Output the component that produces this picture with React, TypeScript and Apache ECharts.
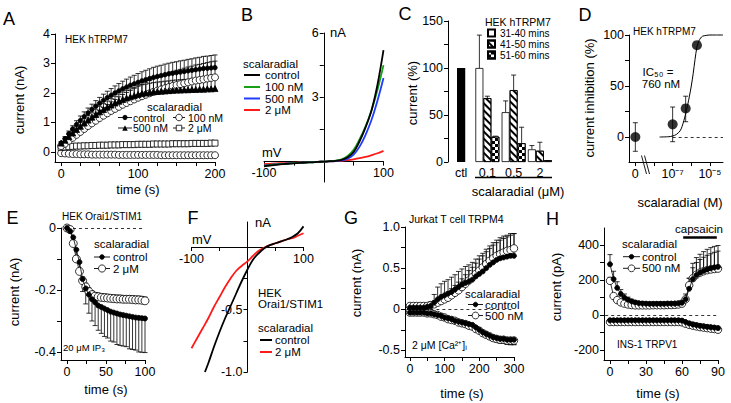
import React, { useEffect, useRef } from 'react';
import * as echarts from 'echarts';

const FONT = '"Liberation Sans", Arial, Helvetica, sans-serif';
const NARROW = '"Liberation Sans Narrow", "Liberation Sans", Arial, sans-serif';

// ---------------- Panel A : HEK hTRPM7 time course ----------------
const timeA = [0,5,10,15,20,25,30,35,40,45,50,55,60,65,70,75,80,85,90,95,100,105,110,115,120,125,130,135,140,145,150,155,160,165,170,175,180,185,190,195,200];
const aControl = [0.30,0.45,0.62,0.78,0.93,1.07,1.20,1.32,1.44,1.55,1.65,1.75,1.84,1.92,2.00,2.07,2.14,2.20,2.26,2.31,2.36,2.41,2.45,2.49,2.53,2.56,2.59,2.62,2.65,2.67,2.69,2.71,2.73,2.75,2.77,2.79,2.81,2.83,2.84,2.85,2.86];
const aControlErr = [0.05,0.07,0.09,0.11,0.13,0.15,0.16,0.17,0.18,0.19,0.2,0.21,0.22,0.23,0.24,0.25,0.26,0.27,0.28,0.29,0.3,0.31,0.32,0.33,0.34,0.35,0.35,0.36,0.36,0.37,0.37,0.38,0.38,0.39,0.39,0.4,0.4,0.41,0.41,0.42,0.43];
const a100 = [0.20,0.28,0.38,0.48,0.58,0.68,0.78,0.88,0.97,1.06,1.15,1.23,1.31,1.39,1.46,1.53,1.60,1.66,1.72,1.78,1.84,1.89,1.94,1.99,2.04,2.08,2.12,2.16,2.20,2.24,2.27,2.30,2.33,2.36,2.39,2.42,2.44,2.46,2.49,2.51,2.53];
const a100Err = [0.05,0.08,0.1,0.12,0.14,0.16,0.18,0.2,0.22,0.24,0.26,0.28,0.3,0.31,0.32,0.34,0.35,0.36,0.37,0.38,0.4,0.41,0.42,0.43,0.44,0.45,0.46,0.47,0.48,0.49,0.5,0.5,0.51,0.52,0.52,0.53,0.53,0.54,0.54,0.55,0.55];
const a500 = [0.30,0.40,0.52,0.64,0.76,0.87,0.98,1.08,1.18,1.27,1.36,1.44,1.52,1.59,1.66,1.72,1.78,1.83,1.87,1.91,1.95,1.98,2.00,2.02,2.04,2.05,2.06,2.07,2.08,2.09,2.10,2.10,2.11,2.11,2.12,2.12,2.13,2.13,2.14,2.14,2.15];
const a500Err = [0.04,0.06,0.08,0.1,0.12,0.14,0.15,0.16,0.17,0.18,0.19,0.2,0.21,0.22,0.23,0.24,0.25,0.26,0.27,0.28,0.29,0.3,0.3,0.31,0.31,0.32,0.32,0.33,0.33,0.34,0.34,0.35,0.35,0.35,0.36,0.36,0.36,0.37,0.37,0.37,0.38];
const a2u = [0.15,0.17,0.18,0.19,0.20,0.20,0.21,0.21,0.22,0.22,0.23,0.23,0.23,0.24,0.24,0.24,0.25,0.25,0.25,0.25,0.26,0.26,0.26,0.26,0.27,0.27,0.27,0.27,0.27,0.28,0.28,0.28,0.28,0.28,0.29,0.29,0.29,0.29,0.29,0.30,0.30];
const a2uErr = [0.03,0.03,0.04,0.04,0.04,0.05,0.05,0.05,0.05,0.05,0.06,0.06,0.06,0.06,0.06,0.06,0.06,0.07,0.07,0.07,0.07,0.07,0.07,0.07,0.07,0.08,0.08,0.08,0.08,0.08,0.08,0.08,0.08,0.08,0.08,0.09,0.09,0.09,0.09,0.09,0.09];
const aInward = [-0.04,-0.05,-0.06,-0.07,-0.07,-0.08,-0.08,-0.08,-0.09,-0.09,-0.09,-0.09,-0.09,-0.09,-0.09,-0.1,-0.1,-0.1,-0.1,-0.1,-0.1,-0.1,-0.1,-0.1,-0.1,-0.1,-0.11,-0.11,-0.11,-0.11,-0.11,-0.11,-0.11,-0.11,-0.11,-0.11,-0.11,-0.11,-0.11,-0.11,-0.11];

// ---------------- Panel B : TRPM7 I-V ----------------
const mvB = [-100,-90,-80,-70,-60,-50,-40,-30,-20,-10,0,10,20,30,40,50,60,70,80,90,100];
const bControl = [-0.22,-0.18,-0.15,-0.12,-0.1,-0.08,-0.06,-0.04,-0.03,-0.01,0,0.02,0.04,0.08,0.2,0.45,0.95,1.6,2.4,3.6,5.2];
const b100 = [-0.2,-0.16,-0.13,-0.11,-0.09,-0.07,-0.05,-0.04,-0.03,-0.01,0,0.02,0.05,0.11,0.26,0.55,1.05,1.65,2.4,3.35,4.5];
const b500 = [-0.18,-0.15,-0.12,-0.1,-0.08,-0.06,-0.05,-0.03,-0.02,-0.01,0,0.01,0.03,0.06,0.14,0.33,0.7,1.25,1.95,2.85,3.9];
const b2u = [-0.12,-0.1,-0.08,-0.07,-0.06,-0.05,-0.04,-0.03,-0.02,-0.01,0,0.01,0.02,0.04,0.07,0.11,0.16,0.22,0.3,0.39,0.5];

// ---------------- Panel C : bars ----------------
const cCategories = ['ctl', '0.1', '0.5', '2'];
const cCtl = [100, null, null, null];
const c31 = [null, 100, 53, 13.5];
const c31Err = [null, 35, 12, 4];
const c41 = [null, 68, 76.5, 12];
const c41Err = [null, 2, 16, 9];
const c51 = [null, 27, 20, 2];
const c51Err = [null, 0.5, 17, 0];
const cLegend = ['31-40 mins', '41-50 mins', '51-60 mins'];

// ---------------- Panel D : dose response ----------------
const dConc = [0, 1e-7, 5e-7, 2e-6];
const dInhib = [0, 12.4, 28, 90];
const dErrUp = [14, 17, 12, 0];
const dErrDown = [14, 17, 13, 0];
const dFitLogConc = [-7.7,-7.2,-7.0,-6.8,-6.6,-6.5,-6.4,-6.3,-6.2,-6.1,-6.0,-5.9,-5.8,-5.7,-5.6,-5.5,-5.4,-5.2,-5.0,-4.7,-4.3];
const dFitInhib = [0,0.3,1,2.5,6,10,16,23,31,40,50,62,76,88,94,97,98.8,99.6,100,100,100];
const D_ZERO = -9; // axis position used for the zero-concentration point (broken axis)
const dTickPos = [D_ZERO, -7, -5];
const dTickText = ['0', '10⁻⁷', '10⁻⁵'];

// ---------------- Panel E : Orai1/STIM1 time course ----------------
const timeE = [0,4,8,12,16,20,24,28,32,36,40,44,48,52,56,60,64,68,72,76,80,84,88,92,96,100];
const eControl = [0,-0.01,-0.03,-0.07,-0.11,-0.165,-0.195,-0.215,-0.23,-0.24,-0.25,-0.255,-0.26,-0.265,-0.27,-0.273,-0.276,-0.279,-0.281,-0.283,-0.285,-0.287,-0.289,-0.29,-0.291,-0.292];
const eControlErr = [0,0.005,0.01,0.02,0.03,0.04,0.05,0.06,0.07,0.075,0.08,0.085,0.09,0.09,0.095,0.095,0.1,0.1,0.1,0.1,0.105,0.105,0.105,0.11,0.11,0.11];
const e2u = [0,-0.005,-0.05,-0.1,-0.14,-0.17,-0.19,-0.205,-0.215,-0.22,-0.222,-0.224,-0.225,-0.226,-0.227,-0.228,-0.229,-0.229,-0.23,-0.23,-0.23,-0.231,-0.232,-0.232,-0.233,-0.235];
const e2uErr = [0,0.005,0.008,0.01,0.01,0.012,0.012,0.012,0.012,0.012,0.012,0.012,0.012,0.012,0.012,0.012,0.012,0.012,0.012,0.012,0.012,0.012,0.012,0.012,0.012,0.012];

// ---------------- Panel F : Orai1 I-V ----------------
const mvFControl = [-76,-70,-60,-50,-40,-30,-20,-10,0,10,20,30,40,50,60,70,80,90,100];
const fControl = [-1.0,-0.93,-0.8,-0.68,-0.57,-0.47,-0.37,-0.27,-0.18,-0.1,-0.05,-0.01,0.015,0.03,0.045,0.06,0.08,0.11,0.165];
const mvF2u = [-100,-90,-80,-70,-60,-50,-40,-30,-20,-10,0,10,20,30,40,50,60,70,80,90,100];
const f2u = [-0.81,-0.73,-0.65,-0.57,-0.48,-0.4,-0.32,-0.25,-0.19,-0.15,-0.115,-0.07,-0.03,-0.005,0.015,0.03,0.045,0.06,0.07,0.09,0.11];

// ---------------- Panel G : Jurkat TRPM4 ----------------
const timeG = [0,10,20,30,40,50,60,70,80,90,100,110,120,130,140,150,160,170,180,190,200,210,220,230,240,250,260,270,280,290,300];
const gControl = [0.02,0.02,0.02,0.02,0.02,0.03,0.04,0.08,0.12,0.15,0.17,0.19,0.21,0.24,0.27,0.30,0.32,0.34,0.36,0.40,0.43,0.46,0.50,0.54,0.57,0.60,0.62,0.63,0.64,0.65,0.65];
const gControlErr = [0.02,0.02,0.02,0.02,0.02,0.03,0.05,0.1,0.15,0.16,0.17,0.17,0.18,0.18,0.19,0.19,0.2,0.2,0.21,0.21,0.22,0.22,0.23,0.23,0.24,0.24,0.25,0.26,0.26,0.27,0.27];
const g500 = [0.04,0.04,0.04,0.04,0.04,0.04,0.05,0.06,0.08,0.10,0.12,0.14,0.17,0.20,0.23,0.27,0.31,0.35,0.39,0.43,0.47,0.51,0.55,0.59,0.62,0.65,0.67,0.69,0.71,0.72,0.74];
const g500Err = [0.01,0.01,0.01,0.01,0.01,0.01,0.02,0.03,0.04,0.05,0.06,0.07,0.08,0.09,0.1,0.1,0.11,0.12,0.12,0.13,0.14,0.14,0.15,0.15,0.16,0.16,0.17,0.17,0.17,0.18,0.18];
const gControlNeg = [-0.04,-0.04,-0.04,-0.04,-0.04,-0.05,-0.05,-0.06,-0.07,-0.08,-0.10,-0.11,-0.12,-0.14,-0.15,-0.16,-0.17,-0.18,-0.19,-0.22,-0.25,-0.28,-0.30,-0.32,-0.34,-0.35,-0.36,-0.36,-0.37,-0.37,-0.37];
const gControlNegErr = [0.01,0.01,0.01,0.01,0.01,0.01,0.01,0.01,0.01,0.01,0.015,0.015,0.015,0.015,0.015,0.02,0.02,0.02,0.025,0.03,0.03,0.035,0.035,0.04,0.04,0.045,0.05,0.05,0.055,0.06,0.06];
const g500Neg = [-0.04,-0.04,-0.04,-0.04,-0.04,-0.05,-0.05,-0.06,-0.07,-0.09,-0.10,-0.12,-0.13,-0.14,-0.16,-0.17,-0.18,-0.20,-0.21,-0.24,-0.26,-0.29,-0.31,-0.33,-0.35,-0.36,-0.37,-0.37,-0.38,-0.38,-0.38];
const g500NegErr = [0.01,0.01,0.01,0.01,0.01,0.01,0.01,0.01,0.01,0.01,0.01,0.015,0.015,0.015,0.015,0.015,0.02,0.02,0.02,0.025,0.025,0.03,0.03,0.035,0.035,0.04,0.04,0.045,0.045,0.05,0.05];

// ---------------- Panel H : INS-1 TRPV1 ----------------
const timeH = [0,3,6,9,12,15,18,21,24,27,30,33,36,39,42,45,48,51,54,57,60,63,66,69,72,75,78,81,84,87,90];
const hControl = [290,205,155,120,100,87,78,72,68,66,65,64,64,64,64,64,65,65,65,66,70,90,150,205,228,242,252,260,267,272,275];
const hControlErr = [55,45,35,25,20,15,12,10,8,8,8,8,8,8,8,8,8,8,8,8,10,30,60,90,100,105,110,115,118,120,122];
const h500 = [195,108,85,72,65,60,57,55,55,55,55,55,56,56,56,56,57,57,58,60,65,90,170,210,230,242,250,256,260,263,265];
const h500Err = [20,15,10,8,6,5,5,5,5,5,5,5,5,5,5,5,5,5,5,5,5,15,40,60,70,75,80,85,90,95,100];
const hControlNeg = [-30,-30,-30,-30,-30,-30,-30,-30,-30,-30,-30,-30,-30,-30,-30,-30,-30,-30,-30,-30,-32,-40,-48,-54,-58,-62,-65,-68,-70,-72,-75];
const h500Neg = [-40,-40,-40,-40,-40,-40,-40,-40,-40,-40,-40,-40,-40,-40,-40,-40,-40,-40,-40,-40,-42,-50,-56,-61,-65,-69,-72,-75,-78,-80,-84];
const hNegErr = [5,5,5,5,5,5,5,5,5,5,5,5,5,5,5,5,5,5,5,5,5,6,7,8,9,10,11,12,13,14,15];
const hCapsaicinStart = 61;
const hCapsaicinEnd = 89;

// ---------------- layout ----------------
const GRIDS = [
  { left: 55, top: 34, width: 160, height: 128 },
  { left: 264, top: 33, width: 119.5, height: 149 },
  { left: 448, top: 21, width: 105, height: 141 },
  { left: 629, top: 35, width: 94, height: 127 },
  { left: 61, top: 228, width: 84, height: 132 },
  { left: 191.5, top: 222, width: 112, height: 150 },
  { left: 405, top: 227, width: 109, height: 130 },
  { left: 604, top: 228, width: 114, height: 132 },
];

// ---------------- helpers ----------------
const zip = (xs: number[], ys: any[]) => xs.map((x, i) => [x, ys[i]]);

function vAxis(grid: number, min: number, max: number, ticks: number[], labels: number[], fmt?: (v: number) => string, offset = 0) {
  return {
    type: 'value', gridIndex: grid, min, max, offset,
    axisLine: { show: true, onZero: false, lineStyle: { color: '#000', width: 1 } },
    axisTick: { show: true, length: 4, customValues: ticks, lineStyle: { color: '#000', width: 1 } },
    axisLabel: {
      show: true, customValues: labels, formatter: fmt || ((v: number) => String(v)),
      color: '#000', fontSize: 12.5, fontFamily: FONT, fontWeight: 'normal', margin: 5, hideOverlap: false,
    },
    splitLine: { show: false },
  };
}

function markers(xi: number, xs: number[], ys: number[], symbol: string, size: number, fill: string, z = 3) {
  return {
    type: 'line', xAxisIndex: xi, yAxisIndex: xi, data: zip(xs, ys),
    symbol, symbolSize: size, showSymbol: true, clip: false, z, silent: true,
    lineStyle: { color: '#000', width: 0.8 },
    itemStyle: { color: fill, borderColor: '#000', borderWidth: 0.8 },
    emphasis: { disabled: true },
  };
}

function curve(xi: number, xs: number[], ys: number[], color: string, width = 1.8) {
  return {
    type: 'line', xAxisIndex: xi, yAxisIndex: xi, data: zip(xs, ys), symbol: 'none', smooth: 0.35,
    clip: false, silent: true, z: 3, lineStyle: { color, width }, emphasis: { disabled: true },
  };
}

function errBars(xi: number, xs: any[], ys: any[], ups: any[] | null, downs: any[] | null, offset = 0, cap = 2.5) {
  return {
    type: 'custom', xAxisIndex: xi, yAxisIndex: xi, z: 1, clip: false, silent: true,
    data: xs.map((x, i) => [x, ys[i] == null ? NaN : ys[i], ups && ups[i] != null ? ups[i] : 0, downs && downs[i] != null ? downs[i] : 0]),
    encode: { x: 0, y: 1 },
    renderItem: (params: any, api: any) => {
      const x = api.value(0), y = api.value(1), up = api.value(2), dn = api.value(3);
      const children: any[] = [];
      if (!isFinite(y)) return { type: 'group', children };
      const style = { stroke: '#000', lineWidth: 0.8 };
      const p = api.coord([x, y]);
      const px = p[0] + offset;
      const add = (v: number) => {
        const q = api.coord([x, v]);
        children.push({ type: 'line', shape: { x1: px, y1: p[1], x2: px, y2: q[1] }, style });
        children.push({ type: 'line', shape: { x1: px - cap, y1: q[1], x2: px + cap, y2: q[1] }, style });
      };
      if (up > 0) add(y + up);
      if (dn > 0) add(y - dn);
      return { type: 'group', children };
    },
  };
}

function zeroLine(x0: number, x1: number) {
  return {
    silent: true, symbol: ['none', 'none'], label: { show: false },
    lineStyle: { type: [3, 3], color: '#000', width: 0.8 },
    data: [[{ coord: [x0, 0] }, { coord: [x1, 0] }]],
    emphasis: { disabled: true },
  };
}

// graphic helpers
const T = (text: string, x: number, y: number, size: number, align = 'left', family = FONT, rotate = false, lineHeight?: number) => ({
  type: 'text', x, y, z: 50, silent: true, rotation: rotate ? Math.PI / 2 : 0,
  style: {
    text, fill: '#000', fontSize: size, fontFamily: family, fontWeight: 'normal',
    textAlign: align, textVerticalAlign: 'middle', align, verticalAlign: 'middle',
    ...(lineHeight ? { lineHeight } : {}),
  },
});
const L = (x1: number, y1: number, x2: number, y2: number, w = 0.9, color = '#000') => ({
  type: 'line', z: 50, silent: true, shape: { x1, y1, x2, y2 }, style: { stroke: color, lineWidth: w },
});
const Cir = (cx: number, cy: number, r: number, fill: string) => ({
  type: 'circle', z: 51, silent: true, shape: { cx, cy, r }, style: { fill, stroke: '#000', lineWidth: 0.8 },
});
const Sq = (cx: number, cy: number, s: number) => ({
  type: 'rect', z: 51, silent: true, shape: { x: cx - s / 2, y: cy - s / 2, width: s, height: s }, style: { fill: '#fff', stroke: '#000', lineWidth: 0.8 },
});
const Tri = (cx: number, cy: number, s: number) => ({
  type: 'polygon', z: 51, silent: true, shape: { points: [[cx, cy - s / 2], [cx + s / 2, cy + s / 2], [cx - s / 2, cy + s / 2]] }, style: { fill: '#000' },
});

// offsets that put an axis line on the other axis' zero (Igor-style crossing axes)
const xZeroOffset = (g: number, min: number, max: number) => -((0 - min) / (max - min)) * GRIDS[g].height;
const yZeroOffset = (g: number, min: number, max: number) => -((0 - min) / (max - min)) * GRIDS[g].width;

function buildOption() {
  const grids = GRIDS.map((g) => ({ ...g, containLabel: false, outerBoundsMode: 'none', show: false }));

  const oneDec = (v: number) => (v === 0 ? '0' : v.toFixed(1));

  const xAxis: any[] = [
    vAxis(0, -8, 200, [0, 25, 50, 75, 100, 125, 150, 175, 200], [0, 100, 200]),
    vAxis(1, -100, 100, [-100, -50, 50, 100], [-100, 100], undefined, xZeroOffset(1, -0.95, 6)),
    {
      type: 'category', gridIndex: 2, data: cCategories, boundaryGap: true,
      axisLine: { show: false }, axisTick: { show: false },
      axisLabel: { color: '#000', fontSize: 12.5, fontFamily: FONT, fontWeight: 'normal', margin: 4, interval: 0 },
      splitLine: { show: false },
    },
    vAxis(3, -9.34, -4.3, [-9, -8, -7, -6, -5], dTickPos, (v: number) => {
      const i = dTickPos.findIndex((p) => Math.abs(p - v) < 1e-6);
      return i >= 0 ? dTickText[i] : '';
    }),
    vAxis(4, -7.7, 100, [0, 25, 50, 75, 100], [0, 50, 100]),
    vAxis(5, -100, 100, [-100, -50, 50, 100], [-100, 100], undefined, xZeroOffset(5, -1.0, 0.2)),
    vAxis(6, -14, 300, [0, 50, 100, 150, 200, 250, 300], [0, 100, 200, 300]),
    vAxis(7, -5, 90, [0, 15, 30, 45, 60, 75, 90], [0, 30, 60, 90]),
  ];
  const yAxis: any[] = [
    vAxis(0, -0.34, 4, [0, 1, 2, 3, 4], [0, 1, 2, 3, 4]),
    vAxis(1, -0.95, 6, [1.5, 3, 4.5, 6], [3, 6], undefined, yZeroOffset(1, -100, 100)),
    vAxis(2, 0, 150, [0, 25, 50, 75, 100, 125, 150], [0, 50, 100, 150]),
    vAxis(3, -24.5, 100, [0, 25, 50, 75, 100], [0, 50, 100]),
    vAxis(4, -0.426, 0, [0, -0.1, -0.2, -0.3, -0.4], [0, -0.2, -0.4], oneDec),
    vAxis(5, -1.0, 0.2, [-1, -0.75, -0.5, -0.25], [-1, -0.5], (v: number) => v.toFixed(1), yZeroOffset(5, -100, 100)),
    vAxis(6, -0.58, 1.0, [-0.5, -0.25, 0, 0.25, 0.5, 0.75, 1], [-0.5, 0, 0.5, 1], oneDec),
    vAxis(7, -257, 497, [-200, -100, 0, 100, 200, 300, 400], [-200, 0, 200, 400]),
  ];

  const hatch = { symbol: 'rect', symbolSize: 1, dashArrayX: [1, 0], dashArrayY: [1.2, 2.3], rotation: Math.PI / 4, color: '#000' };
  const checker = { symbol: 'rect', symbolSize: 1, dashArrayX: [[3, 3], [0, 3, 3, 0]], dashArrayY: [3, 0], color: '#000' };

  const dX = dConc.map((c) => (c > 0 ? Math.log10(c) : D_ZERO));

  const series: any[] = [
    // ---- A ----
    errBars(0, timeA, aControl, aControlErr, null),
    errBars(0, timeA, a100, a100Err, null),
    errBars(0, timeA, a500, a500Err, null),
    errBars(0, timeA, a2u, a2uErr, null),
    markers(0, timeA, aInward, 'circle', 7, '#fff', 3),
    markers(0, timeA, a2u, 'rect', 6, '#fff', 3),
    markers(0, timeA, a100, 'circle', 7, '#fff', 3),
    markers(0, timeA, a500, 'triangle', 6, '#000', 4),
    markers(0, timeA, aControl, 'circle', 4.5, '#000', 5),
    // ---- B ----
    curve(1, mvB, b2u, '#ff1a1a'),
    curve(1, mvB, b500, '#1f3cff'),
    curve(1, mvB, b100, '#16a016'),
    curve(1, mvB, bControl, '#000'),
    // ---- C ----
    {
      type: 'bar', name: cLegend[0], xAxisIndex: 2, yAxisIndex: 2, data: c31, barWidth: 8, barGap: '0%', z: 2,
      itemStyle: { color: '#fff', borderColor: '#000', borderWidth: 0.8 }, silent: true,
    },
    {
      type: 'bar', name: cLegend[1], xAxisIndex: 2, yAxisIndex: 2, barWidth: 8, barGap: '0%', z: 2,
      data: c41.map((v, i) => (cCtl[i] != null ? { value: cCtl[i], itemStyle: { color: '#000', borderColor: '#000', borderWidth: 3 } } : v)),
      itemStyle: { color: '#fff', borderColor: '#000', borderWidth: 0.8, decal: hatch }, silent: true,
    },
    {
      type: 'bar', name: cLegend[2], xAxisIndex: 2, yAxisIndex: 2, data: c51, barWidth: 8, barGap: '0%', z: 2,
      itemStyle: { color: '#fff', borderColor: '#000', borderWidth: 0.8, decal: checker }, silent: true,
    },
    errBars(2, [0, 1, 2, 3], c31, c31Err, null, -8, 2.5),
    errBars(2, [0, 1, 2, 3], c41, c41Err, null, 0, 2.5),
    errBars(2, [0, 1, 2, 3], c51, c51Err, null, 8, 2.5),
    // ---- D ----
    { ...curve(3, dFitLogConc, dFitInhib, '#000', 1), smooth: 0.3, markLine: zeroLine(-7.0, -4.3) },
    errBars(3, dX, dInhib, dErrUp, dErrDown),
    {
      type: 'scatter', xAxisIndex: 3, yAxisIndex: 3, data: zip(dX, dInhib), symbol: 'circle', symbolSize: 10,
      itemStyle: { color: '#000' }, z: 5, clip: false, silent: true,
    },
    // ---- E ----
    errBars(4, timeE, eControl, null, eControlErr),
    errBars(4, timeE, e2u, e2uErr, null),
    { ...markers(4, timeE, e2u, 'circle', 8, '#fff', 3), markLine: zeroLine(0, 100) },
    markers(4, timeE, eControl, 'circle', 5, '#000', 4),
    // ---- F ----
    curve(5, mvF2u, f2u, '#ff1a1a'),
    curve(5, mvFControl, fControl, '#000'),
    // ---- G ----
    errBars(6, timeG, gControl, gControlErr, null),
    errBars(6, timeG, g500, g500Err, null),
    errBars(6, timeG, gControlNeg, null, gControlNegErr),
    errBars(6, timeG, g500Neg, null, g500NegErr),
    { ...markers(6, timeG, g500, 'circle', 7.5, '#fff', 3), markLine: zeroLine(-10, 295) },
    markers(6, timeG, g500Neg, 'circle', 7.5, '#fff', 3),
    markers(6, timeG, gControl, 'circle', 5, '#000', 4),
    markers(6, timeG, gControlNeg, 'circle', 5, '#000', 4),
    // ---- H ----
    errBars(7, timeH, hControl, hControlErr, null),
    errBars(7, timeH, h500, h500Err, null),
    errBars(7, timeH, hControlNeg, null, hNegErr),
    errBars(7, timeH, h500Neg, null, hNegErr),
    { ...markers(7, timeH, h500, 'circle', 7.5, '#fff', 3), markLine: zeroLine(-4, 90) },
    markers(7, timeH, h500Neg, 'circle', 7.5, '#fff', 3),
    {
      ...markers(7, timeH, hControl, 'circle', 5, '#000', 4),
      markLine: {
        silent: true, symbol: ['none', 'none'], label: { show: false },
        lineStyle: { type: 'solid', color: '#000', width: 2.5 },
        data: [[{ coord: [hCapsaicinStart, 446] }, { coord: [hCapsaicinEnd, 446] }]],
      },
    },
    markers(7, timeH, hControlNeg, 'circle', 5, '#000', 4),
  ];

  const LEG = 11.5;
  const LA = 10.5; // panel A legend (tight rows)
  const elements: any[] = [
    // panel letters
    T('A', 9, 19, 18, 'center'), T('B', 247, 15, 18, 'center'), T('C', 405, 14, 18, 'center'), T('D', 585, 15, 18, 'center'),
    T('E', 12.5, 217.5, 18, 'center'), T('F', 193, 217.5, 18, 'center'), T('G', 351, 217.5, 18, 'center'), T('H', 552.5, 219, 18, 'center'),

    // A
    T('HEK hTRPM7', 65, 39, 10, 'left', NARROW),
    T('scalaradial', 147, 107, LEG),
    L(118, 117.5, 132, 117.5), Cir(125, 117.5, 2.2, '#000'), T('control', 133, 117.5, LA, 'left', FONT, false, 10),
    L(173, 117.5, 185, 117.5), Cir(179, 117.5, 3.3, '#fff'), T('100 nM', 188, 117.5, LA, 'left', FONT, false, 10),
    L(118, 128, 132, 128), Tri(125, 128, 5.5), T('500 nM', 133, 128, LA, 'left', FONT, false, 10),
    L(173, 128, 185, 128), Sq(179, 128, 5.5), T('2 μM', 188, 128, LA, 'left', FONT, false, 10),
    T('time (s)', 138, 189, 13, 'center'),
    T('current (nA)', 19, 100, 13, 'center', FONT, true),

    // B
    T('nA', 330, 32.5, 13), T('mV', 262, 152.5, 13),
    T('scalaradial', 243, 63.5, LEG),
    L(244, 75, 260, 75, 2, '#000'), T('control', 265, 75, LEG),
    L(244, 87, 260, 87, 2, '#16a016'), T('100 nM', 265, 87, LEG),
    L(244, 98.5, 260, 98.5, 2, '#1f3cff'), T('500 nM', 265, 98.5, LEG),
    L(244, 110, 260, 110, 2, '#ff1a1a'), T('2 μM', 265, 110, LEG),

    // C
    T('HEK hTRPM7', 485, 21.5, 10.5),
    L(475, 177.5, 552, 177.5, 1.5),
    T('scalaradial (μM)', 518, 191, 13, 'center'),
    T('current (%)', 412, 93, 13, 'center', FONT, true),

    // D
    T('HEK hTRPM7', 633, 31, 10, 'left', NARROW),
    T('IC₅₀ =', 658, 72, LEG, 'center'),
    T('760 nM', 661, 84, LEG, 'center'),
    T('current inhibition (%)', 589, 98, 13, 'center', FONT, true),
    T('scalaradial (M)', 680, 202, 13, 'center'),
    L(641.5, 155.5, 646.5, 174, 0.9), L(644.5, 155.5, 649.5, 174, 0.9),

    // E
    T('HEK Orai1/STIM1', 62, 216, 10, 'left', NARROW),
    T('scalaradial', 94, 244, LEG),
    L(94, 257, 110, 257), Cir(102, 257, 2.3, '#000'), T('control', 113, 257, LEG),
    L(94, 268.5, 110, 268.5), Cir(102, 268.5, 3.6, '#fff'), T('2 μM', 113, 268.5, LEG),
    T('20 μM IP₃', 63, 347, 9.5),
    T('time (s)', 106, 389, 13, 'center'),
    T('current (nA)', 14, 292, 13, 'center', FONT, true),

    // F
    T('nA', 255, 222.5, 13), T('mV', 192, 239, 13),
    T('HEK', 258, 293, LEG), T('Orai1/STIM1', 258, 304, LEG),
    T('scalaradial', 258, 327.5, LEG),
    L(260, 340, 272, 340, 2, '#000'), T('control', 275, 340, LEG),
    L(260, 352, 272, 352, 2, '#ff1a1a'), T('2 μM', 275, 352, LEG),

    // G
    T('Jurkat T cell TRPM4', 409, 219, 10.5),
    T('scalaradial', 465, 294, LEG),
    L(468, 304.5, 483, 304.5), Cir(475.5, 304.5, 2.3, '#000'), T('control', 485, 304.5, LEG),
    L(468, 315.5, 483, 315.5), Cir(475.5, 315.5, 3.4, '#fff'), T('500 nM', 485, 315.5, LEG),
    T('2 μM [Ca²⁺]ᵢ', 412, 345, 10.5),
    T('time (s)', 462, 393, 13, 'center'),
    T('current (nA)', 356, 283, 13, 'center', FONT, true),

    // H
    T('capsaicin', 699, 229, LEG, 'center'),
    T('scalaradial', 622, 244, LEG),
    L(623, 256.7, 640, 256.7), Cir(631.5, 256.7, 2.3, '#000'), T('control', 642, 256.7, LEG),
    L(623, 268.3, 640, 268.3), Cir(631.5, 268.3, 3.4, '#fff'), T('500 nM', 642, 268.3, LEG),
    T('INS-1 TRPV1', 617, 344, 10),
    T('time (s)', 658, 393, 13, 'center'),
    T('current (pA)', 556, 287, 13, 'center', FONT, true),
  ];

  return {
    animation: false,
    backgroundColor: '#fff',
    textStyle: { fontFamily: FONT, fontWeight: 'normal' },
    grid: grids,
    xAxis,
    yAxis,
    series,
    legend: [{
      data: cLegend, orient: 'vertical', left: 487, top: 27.5, itemWidth: 7, itemHeight: 7, itemGap: 0,
      icon: 'rect', padding: 0, selectedMode: false,
      textStyle: { fontSize: 10, lineHeight: 11, fontFamily: FONT, fontWeight: 'normal', color: '#000' },
    }],
    graphic: { elements },
  };
}

export default function App() {
  const ref = useRef<HTMLDivElement>(null);
  useEffect(() => {
    document.body.style.margin = '0';
    const chart = echarts.init(ref.current as HTMLDivElement, null, { renderer: 'svg' });
    chart.setOption(buildOption() as any);
    return () => chart.dispose();
  }, []);
  return <div ref={ref} style={{ width: 731, height: 403 }} />;
}
